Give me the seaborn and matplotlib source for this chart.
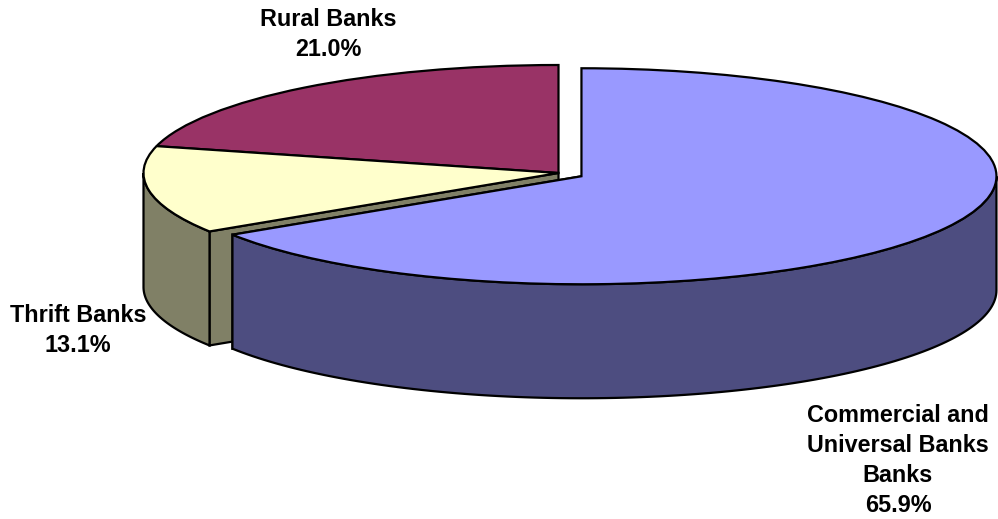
import numpy as np
import seaborn as sns
import matplotlib
matplotlib.use("Agg")
import matplotlib.pyplot as plt

categories = ["Commercial and\nUniversal Banks\nBanks", "Thrift Banks", "Rural Banks"]
shares = [65.9, 13.1, 21.0]

top_colors = ["#9999FF", "#FFFFCC", "#993366"]
wall_colors = ["#4D4D80", "#808066", "#4D1A33"]

# layout of the pie on the 998x519 canvas, in pixels
WIDTH, HEIGHT = 998, 519
PIE_X, PIE_Y = 558.5, 173
RADIUS_X, RADIUS_Y = 415, 108
DEPTH = 114 / RADIUS_Y
EXPLODE = [0.063, 0, 0]
EDGE = 1.6

label_pos = [(898, 460.5), (78, 330.5), (328, 34.5)]

sns.set_theme(style="white")
plt.rcParams["font.family"] = ["Liberation Sans", "DejaVu Sans"]


def slice_angles(values):
    """Clockwise angles from 12 o'clock where each slice starts and ends."""
    ends = np.cumsum(values) / np.sum(values) * 360
    starts = np.concatenate([[0], ends[:-1]])
    return starts, ends


def slice_center(start, end, explode):
    mid = np.radians((start + end) / 2)
    return explode * np.sin(mid), explode * np.cos(mid)


def draw_rim(ax, center, start, end, color, zorder):
    # outer wall, only the part facing the viewer (90 to 270 degrees)
    lo, hi = max(start, 90), min(end, 270)
    if lo >= hi:
        return
    t = np.radians(np.linspace(lo, hi, 120))
    xs = center[0] + np.sin(t)
    ys = center[1] + np.cos(t)
    ax.fill(np.r_[xs, xs[::-1]], np.r_[ys, ys[::-1] - DEPTH], facecolor=color,
            edgecolor="black", linewidth=EDGE, zorder=zorder)


def draw_cut_face(ax, center, angle, color, zorder):
    # flat face running from the pie centre out to the rim
    t = np.radians(angle)
    xs = [center[0], center[0] + np.sin(t), center[0] + np.sin(t), center[0]]
    ys = [center[1], center[1] + np.cos(t), center[1] + np.cos(t) - DEPTH,
          center[1] - DEPTH]
    ax.fill(xs, ys, facecolor=color, edgecolor="black", linewidth=EDGE,
            zorder=zorder)


fig = plt.figure(figsize=(WIDTH / 100, HEIGHT / 100), dpi=100)
ax = fig.add_axes([0, 0, 1, 1])

wedges, _ = ax.pie(shares, explode=EXPLODE, colors=top_colors, startangle=90,
                   counterclock=False,
                   wedgeprops={"edgecolor": "black", "linewidth": EDGE})

starts, ends = slice_angles(shares)
centers = [slice_center(s, e, x) for s, e, x in zip(starts, ends, EXPLODE)]

# back to front: thrift and rural first, commercial slice sits on top
draw_cut_face(ax, centers[1], ends[0], wall_colors[1], 2)
draw_rim(ax, centers[1], starts[1], ends[1], wall_colors[1], 3)
wedges[2].set_zorder(4)
wedges[1].set_zorder(5)
draw_cut_face(ax, centers[0], ends[0], wall_colors[0], 6)
draw_rim(ax, centers[0], starts[0], ends[0], wall_colors[0], 7)
wedges[0].set_zorder(8)

ax.set_aspect("auto")
ax.set_xlim(-PIE_X / RADIUS_X, (WIDTH - PIE_X) / RADIUS_X)
ax.set_ylim((PIE_Y - HEIGHT) / RADIUS_Y, PIE_Y / RADIUS_Y)
ax.axis("off")

for name, share, (px, py) in zip(categories, shares, label_pos):
    fig.text(px / WIDTH, 1 - py / HEIGHT, f"{name}\n{share:.1f}%", ha="center",
             va="center", fontsize=16.8, fontweight="bold", color="black",
             linespacing=1.39)

fig.savefig("out.png", dpi=100, facecolor="white")
